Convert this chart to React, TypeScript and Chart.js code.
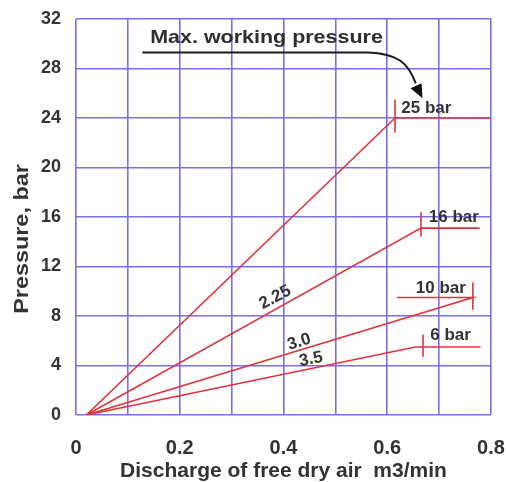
import React, { useEffect, useRef } from "react";
import { Chart, registerables } from "chart.js";

Chart.register(...registerables);

// Discharge (m3/min) and pressure (bar) polylines for each ratio
const line25X = [0.02, 0.615, 0.8];
const line25Y = [0, 24, 24];
const line16X = [0.02, 0.665, 0.778];
const line16Y = [0, 15.1, 15.1];
const line10X = [0.02, 0.765, 0.619];
const line10Y = [0, 9.5, 9.5];
const line6X = [0.02, 0.654, 0.78];
const line6Y = [0, 5.5, 5.5];

// Vertical tick marks at max working pressure: [x, yLow, yHigh]
const markX = [0.615, 0.665, 0.765, 0.669];
const markYLow = [22.8, 14.4, 8.5, 4.7];
const markYHigh = [25.5, 16.4, 10.7, 6.5];

const pressureLabels = ["25 bar", "16 bar", "10 bar", "6 bar"];
const ratioLabels = ["2.25", "3.0", "3.5"];

const xTicks = [0, 0.1, 0.2, 0.3, 0.4, 0.5, 0.6, 0.7, 0.8];
const yTicks = [0, 4, 8, 12, 16, 20, 24, 28, 32];

const RED = "#e2333c";
const GRID = "#7a6ef0";
const TEXT = "#333333";
const FONT = "Liberation Sans, Arial, sans-serif";

function pts(xs: number[], ys: number[]) {
  return xs.map((x, i) => ({ x, y: ys[i] }));
}

export default function App() {
  const ref = useRef<HTMLCanvasElement | null>(null);
  useEffect(() => {
    if (!ref.current) return;
    const lineDs = (xs: number[], ys: number[]) => ({
      data: pts(xs, ys),
      showLine: true,
      borderColor: RED,
      borderWidth: 1.6,
      pointRadius: 0,
      fill: false,
    });
    const markDs = markX.map((x, i) =>
      lineDs([x, x], [markYLow[i], markYHigh[i]])
    );

    const annot = {
      id: "annot",
      afterDatasetsDraw(chart: any) {
        const { ctx, scales, chartArea } = chart;
        const X = (v: number) => scales.x.getPixelForValue(v);
        const Y = (v: number) => scales.y.getPixelForValue(v);
        ctx.save();
        ctx.fillStyle = TEXT;
        ctx.font = `bold 17px ${FONT}`;
        ctx.textBaseline = "middle";
        ctx.textAlign = "left";
        // pressure labels
        const lp = [
          [0.627, 24.75],
          [0.68, 16.0],
          [0.655, 10.26],
          [0.683, 6.46],
        ];
        pressureLabels.forEach((t, i) => {
          ctx.fillText(t, X(lp[i][0]), Y(lp[i][1]));
        });
        // ratio labels rotated along lines
        const lr = [
          [0.384, 9.5, -28],
          [0.43, 5.9, -17],
          [0.453, 4.5, -11],
        ];
        ctx.textAlign = "center";
        ratioLabels.forEach((t, i) => {
          ctx.save();
          ctx.translate(X(lr[i][0]), Y(lr[i][1]));
          ctx.rotate((lr[i][2] * Math.PI) / 180);
          ctx.fillText(t, 0, 0);
          ctx.restore();
        });
        // Max working pressure
        ctx.textAlign = "left";
        ctx.font = `bold 19px ${FONT}`;
        ctx.fillStyle = "#2e2e2e";
        ctx.save();
        ctx.translate(X(0.143), Y(30.5));
        ctx.scale(1.13, 1);
        ctx.fillText("Max. working pressure", 0, 0);
        ctx.restore();
        // arrow
        ctx.strokeStyle = "#1a1a1a";
        ctx.lineWidth = 2;
        ctx.beginPath();
        ctx.moveTo(X(0.128), Y(29.3));
        ctx.lineTo(X(0.563), Y(29.3));
        ctx.bezierCurveTo(X(0.62), Y(29.2), X(0.64), Y(28.5), X(0.655), Y(26.8));
        ctx.stroke();
        ctx.fillStyle = "#111";
        const tx = X(0.668), ty = Y(25.6);
        ctx.beginPath();
        ctx.moveTo(tx, ty);
        ctx.lineTo(tx - 12, ty - 10);
        ctx.lineTo(tx - 1, ty - 15);
        ctx.closePath();
        ctx.fill();
        // y axis title
        ctx.save();
        ctx.fillStyle = TEXT;
        ctx.font = `bold 20px ${FONT}`;
        ctx.textAlign = "center";
        ctx.translate(22, chartArea.top + 220);
        ctx.rotate(-Math.PI / 2);
        ctx.scale(1.17, 1);
        ctx.fillText("Pressure, bar", 0, 0);
        ctx.restore();
        ctx.restore();
      },
    };

    const chart = new Chart(ref.current, {
      type: "scatter",
      data: {
        datasets: [
          lineDs(line25X, line25Y),
          lineDs(line16X, line16Y),
          lineDs(line10X, line10Y),
          lineDs(line6X, line6Y),
          ...markDs,
        ],
      },
      options: {
        animation: false,
        responsive: false,
        maintainAspectRatio: false,
        layout: { padding: { top: 19, right: 15, left: 0, bottom: 0 } },
        plugins: { legend: { display: false }, tooltip: { enabled: false } },
        scales: {
          x: {
            type: "linear",
            min: 0,
            max: 0.8,
            afterBuildTicks: (s: any) => {
              s.ticks = xTicks.map((v) => ({ value: v }));
            },
            afterFit: (s: any) => {
              s.height = 67;
              s.paddingLeft = 0;
              s.paddingRight = 0;
            },
            border: { display: false },
            grid: { color: GRID, lineWidth: 1.6, drawTicks: false },
            ticks: {
              padding: 21,
              color: TEXT,
              font: { family: FONT, size: 20, weight: "bold" },
              maxRotation: 0,
              autoSkip: false,
              callback: (v: any) => {
                const n = Math.round(Number(v) * 10);
                if (n % 2 !== 0) return "";
                return n === 0 ? "0" : (n / 10).toFixed(1);
              },
            },
            title: {
              display: true,
              text: "Discharge of free dry air  m3/min",
              color: TEXT,
              font: { family: FONT, size: 21, weight: "bold", lineHeight: 1.0 },
              padding: { top: 4, bottom: 0 },
            },
          },
          y: {
            type: "linear",
            min: 0,
            max: 32,
            afterBuildTicks: (s: any) => {
              s.ticks = yTicks.map((v) => ({ value: v }));
            },
            afterFit: (s: any) => {
              s.width = 76;
              s.paddingTop = 0;
              s.paddingBottom = 0;
            },
            border: { display: false },
            grid: { color: GRID, lineWidth: 1.6, drawTicks: false },
            ticks: {
              padding: 15,
              color: TEXT,
              font: { family: FONT, size: 18, weight: "bold" },
              autoSkip: false,
            },
            title: { display: false },
          },
        },
      },
      plugins: [annot],
    });
    return () => chart.destroy();
  }, []);
  return (
    <div style={{ position: "fixed", left: 0, top: 0, width: 506, height: 482, background: "#fff" }}>
      <canvas ref={ref} width={506} height={482} />
    </div>
  );
}
